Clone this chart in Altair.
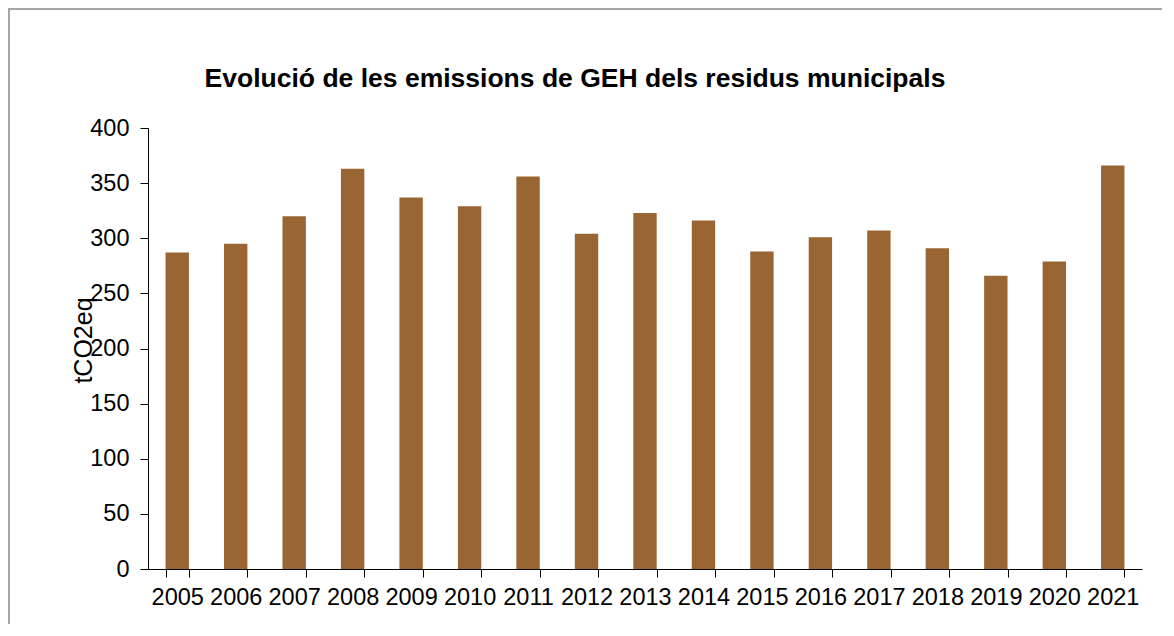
import altair as alt
import pandas as pd

years = [str(y) for y in range(2005, 2022)]
values = [287, 295, 320, 363, 337, 329, 356, 304, 323, 316, 288, 301, 307, 291, 266, 279, 366]

df = pd.DataFrame({"year": years, "value": values})

W, H = 994, 441
FONT = "Liberation Sans"

bars = alt.Chart(df).mark_bar(color="#996633").encode(
    x=alt.X(
        "year:N",
        sort=years,
        title=None,
        scale=alt.Scale(paddingInner=0.6, paddingOuter=0.3),
        axis=alt.Axis(
            labelAngle=0,
            labelFontSize=23.5,
            labelFont=FONT,
            labelColor="#000000",
            labelPadding=8,
            tickBand="extent",
            tickSize=8,
            tickColor="#000000",
            domainColor="#000000",
            labelOverlap=False,
        ),
    ),
    y=alt.Y(
        "value:Q",
        title="tCO2eq",
        scale=alt.Scale(domain=[0, 400], nice=False),
        axis=alt.Axis(
            values=[0, 50, 100, 150, 200, 250, 300, 350, 400],
            grid=False,
            labelFontSize=23.5,
            labelFont=FONT,
            labelColor="#000000",
            labelPadding=11,
            tickSize=8,
            tickColor="#000000",
            domainColor="#000000",
            titleFont=FONT,
            titleFontSize=25,
            titleFontWeight="normal",
            titleColor="#000000",
            titleAngle=-90,
            titleX=-57,
            titleY=212,
            titleAlign="center",
            titleBaseline="alphabetic",
        ),
    ),
)

frame_top = alt.Chart(df).mark_rule(color="#a6a6a6", strokeWidth=2).encode(
    x=alt.value(-140), x2=alt.value(W + 40), y=alt.value(-119)
)
frame_left = alt.Chart(df).mark_rule(color="#a6a6a6", strokeWidth=2).encode(
    x=alt.value(-139), y=alt.value(-120), y2=alt.value(H + 80)
)

chart = (
    alt.layer(frame_top, frame_left, bars)
    .properties(
        width=W,
        height=H,
        title=alt.TitleParams(
            "Evolució de les emissions de GEH dels residus municipals",
            font=FONT,
            fontSize=26.5,
            fontWeight="bold",
            color="#000000",
            anchor="middle",
            baseline="alphabetic",
            dx=-70,
            dy=106,
            offset=0,
        ),
        autosize=alt.AutoSizeParams(type="none"),
        padding={"left": 140, "top": 120, "right": 20, "bottom": 55},
    )
    .configure_view(stroke=None)
)

chart.save("out.html", embed_options={"renderer": "svg", "actions": False})
